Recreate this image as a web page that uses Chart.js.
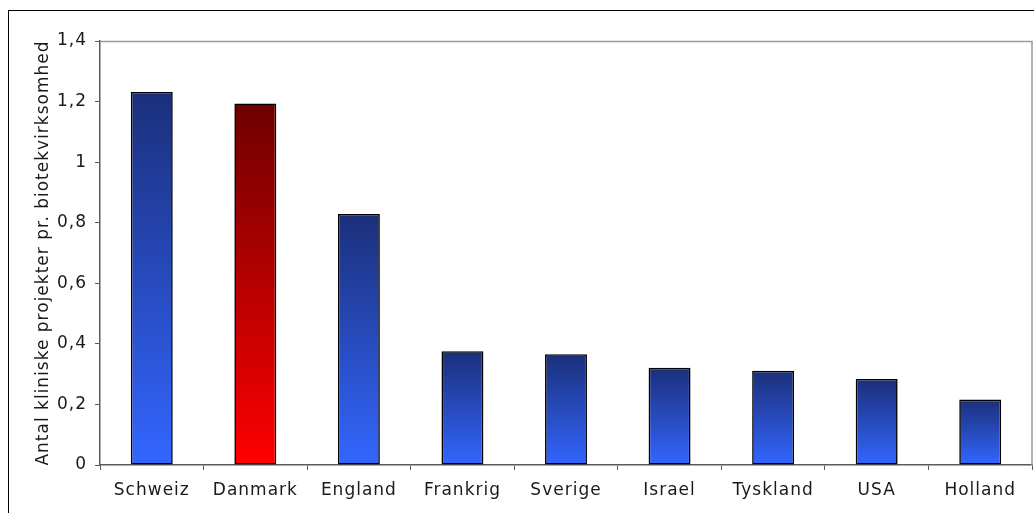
<!DOCTYPE html>
<html>
<head>
<meta charset="utf-8">
<script src="https://cdn.jsdelivr.net/npm/chart.js@4/dist/chart.umd.min.js"></script>
<style>
  html, body { margin: 0; padding: 0; background: #fff; }
  #wrap { width: 1034px; height: 513px; position: relative; }
</style>
</head>
<body>
<div id="wrap"><canvas id="chart"></canvas></div>
<script>
// ─── Data ──────────────────────────────────────────────────────────────────
const COUNTRIES = ['Schweiz', 'Danmark', 'England', 'Frankrig', 'Sverige', 'Israel', 'Tyskland', 'USA', 'Holland'];
const PROJECTS_PER_COMPANY = [1.232, 1.194, 0.829, 0.376, 0.366, 0.321, 0.311, 0.284, 0.216];
const HIGHLIGHT = 'Danmark';
const Y_TITLE = 'Antal kliniske projekter pr. biotekvirksomhed';

// ─── Colours ───────────────────────────────────────────────────────────────
const BLUE_TOP = '#1b2f7a';
const BLUE_BOTTOM = '#3366ff';
const RED_TOP = '#6e0000';
const RED_BOTTOM = '#ff0000';
const AXIS = '#5a5a5a';
const FONT = "'DejaVu Sans', Verdana, sans-serif";

function barGradient(ctx) {
  const chart = ctx.chart;
  const isRed = COUNTRIES[ctx.dataIndex] === HIGHLIGHT;
  if (!chart.chartArea || ctx.type !== 'data') return isRed ? RED_BOTTOM : BLUE_BOTTOM;
  const y = chart.scales.y;
  const top = y.getPixelForValue(ctx.raw);
  const bottom = y.getPixelForValue(0);
  const g = chart.ctx.createLinearGradient(0, top, 0, bottom);
  g.addColorStop(0, isRed ? RED_TOP : BLUE_TOP);
  g.addColorStop(1, isRed ? RED_BOTTOM : BLUE_BOTTOM);
  return g;
}

// outer frame + grey plot-area border (top/right); wider Verdana-like text spacing
const framePlugin = {
  id: 'frame',
  beforeDraw(chart) {
    chart.ctx.letterSpacing = '1px';
  },
  afterDraw(chart) {
    const { ctx, chartArea: a } = chart;
    ctx.save();
    ctx.strokeStyle = '#000';
    ctx.lineWidth = 1;
    ctx.strokeRect(8.5, 10.5, 1200, 700);
    ctx.strokeStyle = '#9a9a9a';
    ctx.lineWidth = 1.5;
    ctx.beginPath();
    ctx.moveTo(a.left, a.top + 0.5);
    ctx.lineTo(a.right, a.top + 0.5);
    ctx.lineTo(a.right, a.bottom);
    ctx.stroke();
    ctx.restore();
  }
};

new Chart(document.getElementById('chart'), {
  type: 'bar',
  data: {
    labels: COUNTRIES,
    datasets: [{
      data: PROJECTS_PER_COMPANY,
      backgroundColor: barGradient,
      borderColor: '#000',
      borderWidth: 1.6,
      borderSkipped: false,
      barPercentage: 0.405,
      categoryPercentage: 1
    }]
  },
  options: {
    responsive: true, maintainAspectRatio: false, animation: false,
    layout: { padding: { top: 41, right: 2, left: 0, bottom: 0 } },
    plugins: { legend: { display: false }, tooltip: { enabled: false } },
    scales: {
      x: {
        grid: { display: true, drawOnChartArea: false, drawTicks: true, tickLength: 5, color: AXIS, offset: true },
        border: { display: true, color: AXIS, width: 1.5 },
        ticks: { color: '#1a1a1a', font: { family: FONT, size: 17 }, padding: 10, maxRotation: 0 },
        afterFit: s => { s.height = 48; }
      },
      y: {
        min: 0, max: 1.4,
        grid: { display: true, drawOnChartArea: false, drawTicks: true, tickLength: 5, color: AXIS },
        border: { display: true, color: AXIS, width: 1.5 },
        ticks: {
          stepSize: 0.2, color: '#1a1a1a', padding: 8,
          font: { family: FONT, size: 17 },
          callback: v => (Math.round(v * 10) / 10).toString().replace('.', ',')
        },
        title: { display: true, text: Y_TITLE, color: '#1a1a1a', font: { family: FONT, size: 17 }, padding: { top: 33, bottom: 0 } },
        afterFit: s => { s.width = 100; }
      }
    }
  },
  plugins: [framePlugin]
});
</script>
</body>
</html>
